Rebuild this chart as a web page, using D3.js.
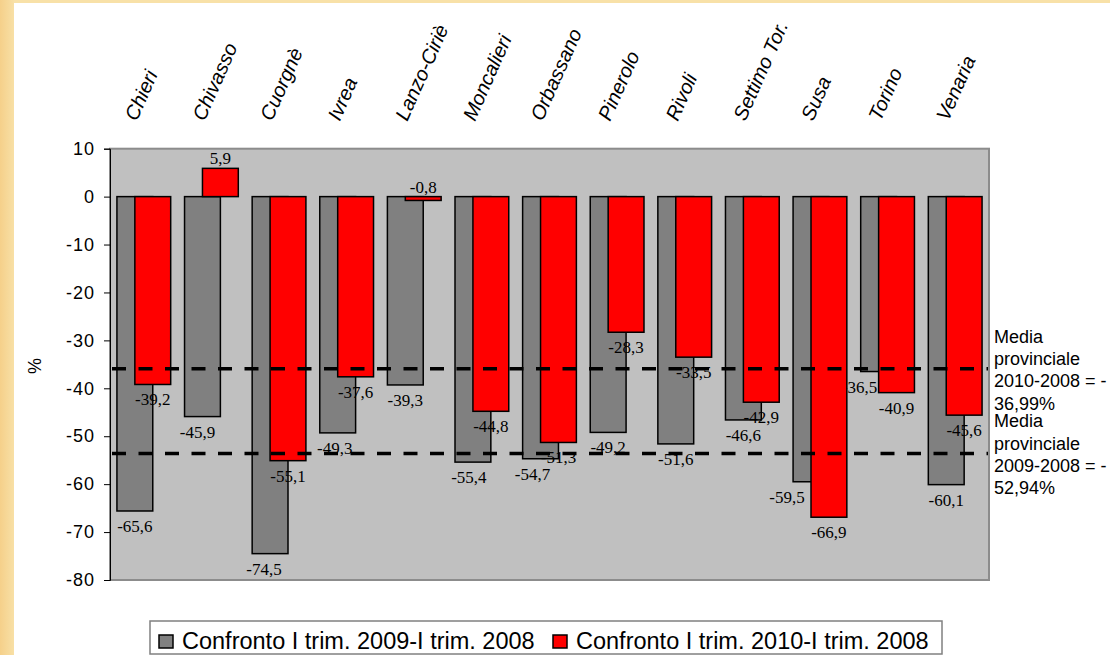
<!DOCTYPE html>
<html>
<head>
<meta charset="utf-8">
<script src="https://d3js.org/d3.v7.min.js"></script>
<style>
  body { margin: 0; background: #fff; }
  svg { display: block; }
</style>
</head>
<body>
<div id="chart"></div>
<script>
// dati del grafico
const zone = ["Chieri", "Chivasso", "Cuorgnè", "Ivrea", "Lanzo-Ciriè", "Moncalieri", "Orbassano",
    "Pinerolo", "Rivoli", "Settimo Tor.", "Susa", "Torino", "Venaria"];
const var2009 = [-65.6, -45.9, -74.5, -49.3, -39.3, -55.4, -54.7, -49.2, -51.6, -46.6, -59.5, -36.5, -60.1];
const var2010 = [-39.2, 5.9, -55.1, -37.6, -0.8, -44.8, -51.3, -28.3, -33.5, -42.9, -66.9, -40.9, -45.6];
const serie = ["Confronto I trim. 2009-I trim. 2008", "Confronto I trim. 2010-I trim. 2008"];
// le linee tratteggiate sono disegnate a mano nel grafico: livelli
const lineeMedie = [-35.9, -53.6];
const testoMedie = [
    ["Media", "provinciale", "2010-2008 = -", "36,99%"],
    ["Media", "provinciale", "2009-2008 = -", "52,94%"]
];
const yTicks = [10, 0, -10, -20, -30, -40, -50, -60, -70, -80];

const W = 1110, H = 655;
const it = d3.formatLocale({decimal: ",", thousands: ".", grouping: [3], currency: ["", "€"], minus: "-"});
const fmt = it.format(".1f");

let svg = d3.select("#chart").append("svg").attr("width", W).attr("height", H);

// cornice beige
let grad = svg.append("defs").append("linearGradient").attr("id", "bordo");
grad.append("stop").attr("offset", "0%").attr("stop-color", "#f5d08a");
grad.append("stop").attr("offset", "100%").attr("stop-color", "#f8e0a6");
svg.append("rect").attr("width", W).attr("height", H).attr("fill", "#f8e1a8");
svg.append("rect").attr("width", 14).attr("height", H).attr("fill", "url(#bordo)");
svg.append("rect").attr("x", 14).attr("y", 3).attr("width", W - 14).attr("height", H - 3).attr("fill", "#fff");

// scale
let x = d3.scaleBand().domain(zone).range([110, 989]);
let y = d3.scaleLinear().domain([-80, 10]).range([580, 148.7]);
let bw = x.bandwidth() * 0.53;

// area del grafico
svg.append("rect")
    .attr("x", 110).attr("y", y(10))
    .attr("width", 879).attr("height", y(-80) - y(10))
    .attr("fill", "#c0c0c0").attr("stroke", "#8c8c8c").attr("stroke-width", 2);

// asse y
let asseY = svg.append("g").attr("transform", "translate(110,0)")
    .call(d3.axisLeft(y).tickValues(yTicks).tickSize(6).tickPadding(9).tickFormat(it.format("d")));
asseY.select(".domain").attr("stroke", "#000");
asseY.selectAll("text")
    .attr("font-family", "Liberation Sans, Arial, sans-serif")
    .attr("font-size", 18).attr("letter-spacing", 1).attr("fill", "#000");

svg.append("text")
    .attr("transform", "translate(41,366) rotate(-90)")
    .attr("text-anchor", "middle")
    .attr("font-family", "Liberation Sans, Arial, sans-serif")
    .attr("font-size", 18)
    .text("%");

// etichette zone ruotate
svg.append("g").selectAll("text").data(zone).enter().append("text")
    .attr("transform", d => "translate(" + (x(d) + x.bandwidth() / 2 - 7) + ",122) rotate(-66)")
    .attr("font-family", "Liberation Sans, Arial, sans-serif")
    .attr("font-style", "italic")
    .attr("font-size", 20)
    .text(d => d);

let dati09 = zone.map((z, i) => ({z: z, v: var2009[i]}));
let dati10 = zone.map((z, i) => ({z: z, v: var2010[i]}));
let cx09 = d => x(d.z) + x.bandwidth() / 2 - bw / 2 - bw / 4;
let cx10 = d => x(d.z) + x.bandwidth() / 2 - bw / 4;

// spostamenti manuali delle etichette grigie (come nell'originale)
let nudge09 = {"Chivasso": -5, "Cuorgnè": -6, "Ivrea": -3, "Moncalieri": -4, "Orbassano": -8,
    "Susa": -24, "Torino": -19};

// barre 2009
svg.append("g").selectAll("rect").data(dati09).enter().append("rect")
    .attr("x", cx09)
    .attr("y", d => y(Math.max(0, d.v)))
    .attr("width", bw)
    .attr("height", d => Math.abs(y(d.v) - y(0)))
    .attr("fill", "#808080").attr("stroke", "#000").attr("stroke-width", 1.5);

let etichetta = (g, dati, cx, sp) => g.selectAll("text").data(dati).enter().append("text")
    .attr("x", d => cx(d) + bw / 2 + (sp[d.z] || 0))
    .attr("y", d => d.v > -1 ? y(Math.max(0, d.v)) - 4 : y(d.v) + 21)
    .attr("text-anchor", "middle")
    .attr("font-family", "Liberation Serif, Times New Roman, serif")
    .attr("font-size", 17)
    .text(d => fmt(d.v));

svg.append("g").call(etichetta, dati09, cx09, nudge09);

// barre 2010
svg.append("g").selectAll("rect").data(dati10).enter().append("rect")
    .attr("x", cx10)
    .attr("y", d => y(Math.max(0, d.v)))
    .attr("width", bw)
    .attr("height", d => Math.abs(y(d.v) - y(0)))
    .attr("fill", "#ff0000").attr("stroke", "#000").attr("stroke-width", 1.5);

svg.append("g").call(etichetta, dati10, cx10, {});

// medie provinciali
svg.append("g").selectAll("line").data(lineeMedie).enter().append("line")
    .attr("x1", 112).attr("x2", 988)
    .attr("y1", d => y(d)).attr("y2", d => y(d))
    .attr("stroke", "#000").attr("stroke-width", 3.5)
    .attr("stroke-dasharray", "14,12.5");

testoMedie.forEach((righe, k) => {
    let t = svg.append("text")
        .attr("font-family", "Liberation Sans, Arial, sans-serif")
        .attr("font-size", 18);
    righe.forEach((r, j) => {
        t.append("tspan").attr("x", 994)
            .attr("y", y(lineeMedie[k]) - 26 + j * 22.3)
            .text(r);
    });
});

// legenda
let leg = svg.append("g");
leg.append("rect").attr("x", 150).attr("y", 621).attr("width", 792).attr("height", 33)
    .attr("fill", "#fff").attr("stroke", "#808080").attr("stroke-width", 1.5);
let legX = [159, 553];
let colori = ["#808080", "#ff0000"];
serie.forEach((s, i) => {
    leg.append("rect").attr("x", legX[i]).attr("y", 635).attr("width", 14).attr("height", 13)
        .attr("fill", colori[i]).attr("stroke", "#000").attr("stroke-width", 1.5);
    leg.append("text").attr("x", legX[i] + 23).attr("y", 649)
        .attr("font-family", "Liberation Sans, Arial, sans-serif")
        .attr("font-size", 23.5)
        .text(s);
});
</script>
</body>
</html>
